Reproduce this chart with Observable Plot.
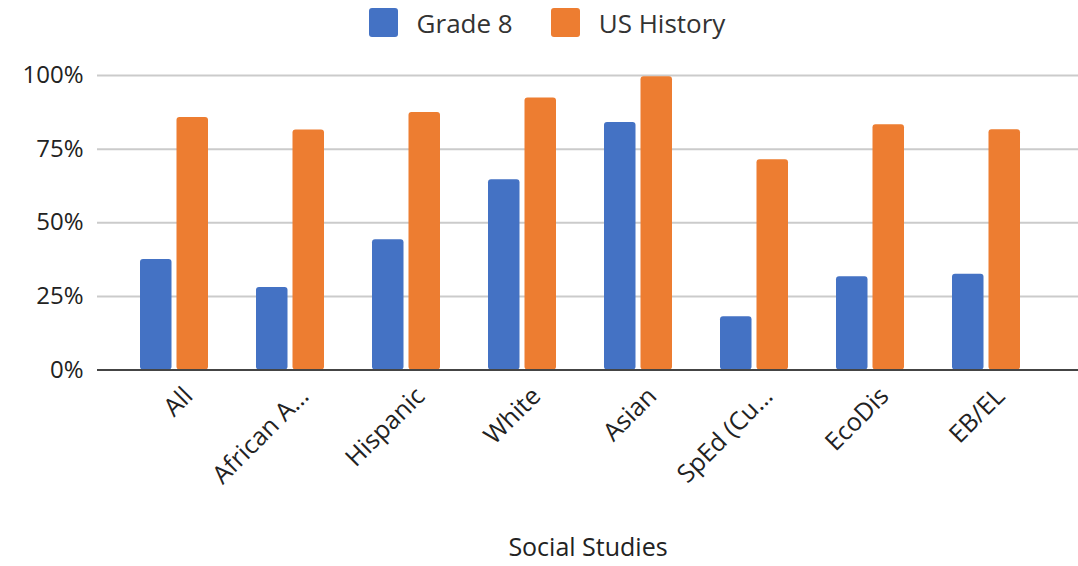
<!DOCTYPE html>
<html>
<head>
<meta charset="utf-8">
<script src="https://cdn.jsdelivr.net/npm/d3@7"></script>
<script src="https://cdn.jsdelivr.net/npm/@observablehq/plot@0.6"></script>
<style>
  html, body { margin: 0; padding: 0; background: #fff; }
  body { width: 1078px; height: 566px; overflow: hidden; font-family: "Open Sans", sans-serif; }
  #legend { height: 45px; display: flex; justify-content: center; align-items: center; gap: 38px; padding-left: 16px; box-sizing: border-box; font-size: 26px; color: #333; }
  .item { display: flex; align-items: center; }
  .sw { width: 29px; height: 29px; border-radius: 3px; margin-right: 19px; }
</style>
</head>
<body>
<div id="legend"></div>
<div id="chart"></div>
<script>
const categories = ["All", "African A…", "Hispanic", "White", "Asian", "SpEd (Cu…", "EcoDis", "EB/EL"];
const grade8 = [0.375, 0.28, 0.442, 0.646, 0.84, 0.181, 0.317, 0.325];
const usHistory = [0.857, 0.815, 0.874, 0.924, 0.996, 0.714, 0.833, 0.816];
const seriesNames = ["Grade 8", "US History"];
const seriesColors = ["#4472C4", "#ED7D31"];
const yTicks = [0, 0.25, 0.5, 0.75, 1];

const g8Data = categories.map((c, i) => ({category: c, value: grade8[i]}));
const usData = categories.map((c, i) => ({category: c, value: usHistory[i]}));

const legend = document.getElementById("legend");
seriesNames.forEach((name, i) => {
  const it = document.createElement("div");
  it.className = "item";
  const sw = document.createElement("div");
  sw.className = "sw";
  sw.style.background = seriesColors[i];
  const t = document.createElement("span");
  t.textContent = name;
  it.appendChild(sw); it.appendChild(t);
  legend.appendChild(it);
});

const plot = Plot.plot({
  width: 1078,
  height: 521,
  marginLeft: 97,
  marginRight: 0,
  marginTop: 30,
  marginBottom: 196.5,
  style: {fontFamily: "Open Sans, sans-serif", color: "#222", background: "#fff"},
  x: {
    domain: categories,
    paddingInner: 0.413,
    paddingOuter: 0.2065,
    insetLeft: 17,
    insetRight: 31,
    label: null
  },
  y: {domain: [0, 1], label: null},
  marks: [
    Plot.ruleY(yTicks.filter(d => d > 0), {stroke: "#cbcbcb", strokeWidth: 2}),
    Plot.barY(g8Data, {x: "category", y: "value", fill: seriesColors[0], insetRight: 36.5, rx: 3}),
    Plot.barY(usData, {x: "category", y: "value", fill: seriesColors[1], insetLeft: 36.5, rx: 3}),
    Plot.ruleY([0], {stroke: "#444", strokeWidth: 2}),
    Plot.axisY({ticks: yTicks, tickFormat: d3.format(".0%"), tickSize: 0, tickPadding: 14, fontSize: 24, label: null}),
    Plot.axisX({tickSize: 0, tickRotate: -45, tickPadding: 22, dx: 14, fontSize: 25, label: null}),
    Plot.axisX({tickSize: 0, ticks: [], fontSize: 25, label: "Social Studies", labelAnchor: "center", labelOffset: 186, labelArrow: "none", dx: 2.5})
  ]
});
plot.querySelectorAll("text").forEach(t => t.setAttribute("fill", "#222"));
document.getElementById("chart").appendChild(plot);
</script>
</body>
</html>
